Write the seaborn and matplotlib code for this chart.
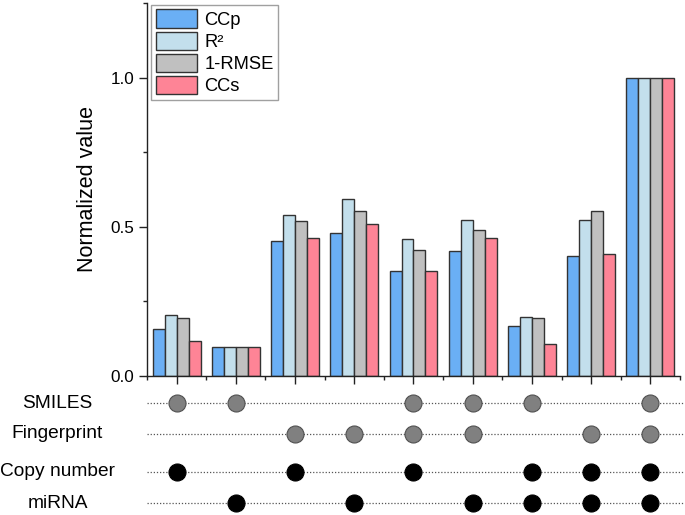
import numpy as np
import pandas as pd
import matplotlib
matplotlib.use('Agg')
import matplotlib.pyplot as plt
import seaborn as sns
from matplotlib.ticker import MultipleLocator

# Data
combos = ['C1', 'C2', 'C3', 'C4', 'C5', 'C6', 'C7', 'C8', 'C9']
metrics = ['CCp', 'R²', '1-RMSE', 'CCs']
ccp = [0.158, 0.098, 0.453, 0.479, 0.351, 0.419, 0.166, 0.403, 1.0]
r2 = [0.204, 0.098, 0.539, 0.592, 0.459, 0.522, 0.197, 0.522, 1.0]
one_rmse = [0.196, 0.098, 0.520, 0.553, 0.423, 0.488, 0.195, 0.553, 1.0]
ccs = [0.117, 0.098, 0.464, 0.509, 0.353, 0.463, 0.108, 0.409, 1.0]

features = ['SMILES', 'Fingerprint', 'Copy number', 'miRNA']
smiles_on = [1, 1, 0, 0, 1, 1, 1, 0, 1]
fingerprint_on = [0, 0, 1, 1, 1, 1, 0, 1, 1]
copynum_on = [1, 0, 1, 0, 1, 0, 1, 1, 1]
mirna_on = [0, 1, 0, 1, 0, 1, 1, 1, 1]

colors = ['#6aaff5', '#c3dfec', '#c0c0c0', '#fe8496']

df = pd.DataFrame({
    'combo': combos * 4,
    'metric': np.repeat(metrics, len(combos)),
    'value': ccp + r2 + one_rmse + ccs,
})

sns.set_theme(style='white')
plt.rcParams['font.family'] = ['Liberation Sans', 'DejaVu Sans']
plt.rcParams['text.color'] = 'black'
plt.rcParams['axes.labelcolor'] = 'black'
plt.rcParams['xtick.color'] = 'black'
plt.rcParams['ytick.color'] = 'black'

W, H = 685, 515
fig = plt.figure(figsize=(W / 100, H / 100), dpi=100)
ax = fig.add_axes([147 / W, 1 - 376 / H, 533 / W, 373 / H])

sns.barplot(data=df, x='combo', y='value', hue='metric', palette=colors,
            edgecolor='#333333', linewidth=1.0, width=0.81, saturation=1,
            ax=ax)

ax.set_xlim(-0.5, 8.5)
ax.set_ylim(0, 1.25)
ax.set_xlabel('')
ax.set_ylabel('Normalized value', fontsize=15.5, labelpad=9)
ax.set_yticks([0, 0.5, 1.0])
ax.set_yticklabels(['0.0', '0.5', '1.0'], fontsize=12.3)
ax.yaxis.set_minor_locator(MultipleLocator(0.25))
ax.set_xticks(range(len(combos)))
ax.set_xticklabels([])
ax.set_xticks(np.arange(-0.5, 9, 1.0), minor=True)
ax.tick_params(axis='both', which='major', direction='out', length=6, width=1.0,
               color='#222222', left=True, bottom=True, pad=3)
ax.tick_params(axis='both', which='minor', direction='out', length=3, width=1.0,
               color='#222222', left=True, bottom=True)
for s in ['top', 'right']:
    ax.spines[s].set_visible(False)
for s in ['left', 'bottom']:
    ax.spines[s].set_color('#222222')
    ax.spines[s].set_linewidth(1.0)

leg = ax.legend(loc='upper left', bbox_to_anchor=(0.005, 1.0), fontsize=13.2,
                frameon=True, fancybox=False, edgecolor='#888888',
                handlelength=2.25, handleheight=1.15, labelspacing=0.16,
                handletextpad=0.38, borderpad=0.25, borderaxespad=0.1)
leg.get_frame().set_linewidth(1.0)

# Feature matrix below
ax2 = fig.add_axes([147 / W, 0, 538 / W, 135 / H])
ax2.set_xlim(-0.5, 8.5 + 5 / 59.2)
ax2.set_ylim(515, 380)
ax2.axis('off')

row_y = [403, 434, 472, 503]
flags = [smiles_on, fingerprint_on, copynum_on, mirna_on]
dot_face = ['#808080', '#808080', 'black', 'black']
dot_edge = ['#505050', '#505050', 'black', 'black']

for name, y, on, fc, ec in zip(features, row_y, flags, dot_face, dot_edge):
    ax2.plot([-0.5, 8.5 + 5 / 59.2], [y, y], ls=(0, (1, 1.5)), lw=0.9,
             color='#555555', zorder=1)
    xs = [i for i, v in enumerate(on) if v]
    ax2.scatter(xs, [y] * len(xs), s=150, color=fc, edgecolors=ec,
                linewidths=0.8, zorder=3)
    fig.text(57.5 / W, 1 - y / H, name, ha='center', va='center', fontsize=13.8)

fig.savefig('out.png', dpi=100)
